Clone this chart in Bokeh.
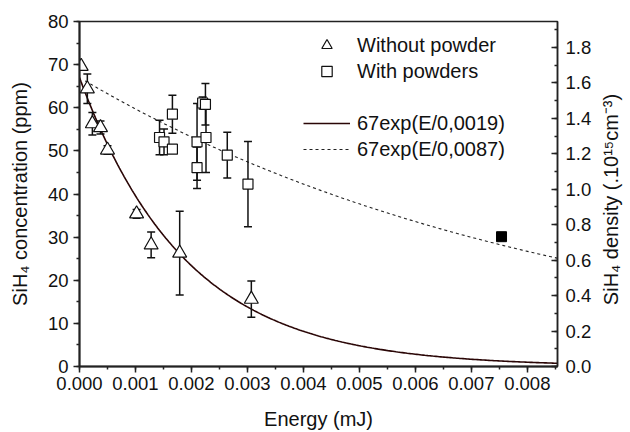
import numpy as np
from bokeh.plotting import figure
from bokeh.models import (Range1d, LinearAxis, SingleIntervalTicker, PrintfTickFormatter,
                          Legend, LegendItem, Label)
from bokeh.embed import file_html
from bokeh.resources import INLINE

# ---- data ----
without_E = [0.00003, 0.00014, 0.00023, 0.000375, 0.0005, 0.00102, 0.00128, 0.00179, 0.00307]
without_c = [69.6, 64.4, 56.3, 55.4, 50.2, 35.4, 28.2, 26.3, 15.6]
without_err = [0.0, 3.4, 2.6, 1.5, 1.0, 1.0, 3.0, 9.7, 4.2]

with_E = [0.00143, 0.00151, 0.00166, 0.00166, 0.0021, 0.0021, 0.0022, 0.00225, 0.00226, 0.00264, 0.00301]
with_c = [53.1, 52.1, 50.4, 58.5, 52.1, 46.1, 61.1, 60.8, 53.1, 49.0, 42.3]
with_err = [4.0, 3.0, 0.0, 4.4, 8.9, 4.8, 1.4, 4.8, 8.1, 5.3, 9.9]

single_E = [0.00754]
single_c = [30.1]

fit_amp = 67
fit_decay = [0.0019, 0.0087]
fit_labels = ["67exp(E/0,0019)", "67exp(E/0,0087)"]
fit_start = [0.0, 0.0001]

x_max = 0.00854
y_max = 80
dens_max = 1.946

FONT = "Liberation Sans"
W, H = 630, 432
BL, BR, BT, BB = 79, 73, 21, 65

p = figure(width=W, height=H, output_backend="svg", toolbar_location=None,
           x_range=Range1d(0, x_max), y_range=Range1d(0, y_max),
           min_border_left=BL, min_border_right=BR, min_border_top=BT, min_border_bottom=BB)
p.extra_y_ranges = {"dens": Range1d(0, dens_max)}
p.xgrid.visible = False
p.ygrid.visible = False
p.outline_line_color = "#222222"
p.outline_line_width = 1.5
p.background_fill_color = "white"
p.border_fill_color = "white"

def style_axis(ax, tick_in=0, tick_out=6):
    ax.axis_line_width = 2
    ax.axis_line_color = "#222222"
    ax.major_tick_line_color = "#222222"
    ax.minor_tick_line_color = "#222222"
    ax.major_tick_line_width = 1.5
    ax.minor_tick_line_width = 1.5
    ax.major_tick_in = tick_in
    ax.major_tick_out = tick_out
    ax.minor_tick_in = tick_in // 2
    ax.minor_tick_out = tick_out // 2
    ax.major_label_text_font = FONT
    ax.major_label_text_font_size = "18.5px"
    ax.major_label_text_color = "#111111"
    ax.axis_label_text_font = FONT
    ax.axis_label_text_font_size = "20px"
    ax.axis_label_text_font_style = "normal"
    ax.axis_label_text_color = "#111111"

xa = p.xaxis[0]
xa.ticker = SingleIntervalTicker(interval=0.001, num_minor_ticks=2)
xa.formatter = PrintfTickFormatter(format="%.3f")
xa.axis_label = "Energy (mJ)"
style_axis(xa)
xa.major_label_standoff = 4
xa.axis_label_standoff = 15

ya = p.yaxis[0]
ya.ticker = SingleIntervalTicker(interval=10, num_minor_ticks=2)
ya.axis_label = "SiH₄ concentration (ppm)"
style_axis(ya)
ya.major_label_standoff = 5
ya.axis_label_standoff = 14

ra = LinearAxis(y_range_name="dens",
                ticker=SingleIntervalTicker(interval=0.2, num_minor_ticks=2),
                formatter=PrintfTickFormatter(format="%.1f"))
style_axis(ra, tick_in=6, tick_out=0)
ra.axis_line_width = 1.5
ra.major_label_standoff = 8
p.add_layout(ra, "right")

# right-axis title in its own side panel, reading bottom-to-top like the reference
frame_h = H - BT - BB
p.add_layout(Label(x=16, y=frame_h / 2 - 6, x_units="screen", y_units="screen",
                   text="SiH₄ density (.10¹⁵cm⁻³)", angle=float(np.pi / 2),
                   text_align="center", text_baseline="middle",
                   text_font=FONT, text_font_size="20px", text_color="#111111"), "right")

# ---- fit curves ----
fit_renderers = []
for decay, start, dash, col, lw in zip(fit_decay, fit_start, ["solid", "3 3"],
                                       ["#2a0606", "#222222"], [1.6, 1.1]):
    E = np.linspace(start, x_max, 300)
    fit_renderers.append(p.line(E, fit_amp * np.exp(-E / decay), line_color=col,
                                line_width=lw, line_dash=dash))

# ---- error bars ----
def errorbars(xs, ys, es):
    xs_ = [x for x, e in zip(xs, es) if e > 0]
    lo = [y - e for y, e in zip(ys, es) if e > 0]
    hi = [y + e for y, e in zip(ys, es) if e > 0]
    p.segment(xs_, lo, xs_, hi, line_color="#111111", line_width=1.5)
    p.scatter(xs_ + xs_, lo + hi, marker="dash", size=8, line_color="#111111", line_width=1.5)

errorbars(without_E, without_c, without_err)
errorbars(with_E, with_c, with_err)

tri = p.scatter(without_E, without_c, marker="triangle", size=14, fill_color="white",
                line_color="#111111", line_width=1.2)
sq = p.scatter(with_E, with_c, marker="square", size=10, fill_color="white",
               line_color="#111111", line_width=1.2)
p.scatter(single_E, single_c, marker="square", size=10, fill_color="black", line_color="black")

blank = p.scatter([], [], marker="square", fill_alpha=0, line_alpha=0)

legend = Legend(items=[
    LegendItem(label="Without powder", renderers=[tri]),
    LegendItem(label="With powders", renderers=[sq]),
    LegendItem(label=" ", renderers=[blank]),
    LegendItem(label=fit_labels[0], renderers=[fit_renderers[0]]),
    LegendItem(label=fit_labels[1], renderers=[fit_renderers[1]]),
], location=(224, 204))
legend.background_fill_alpha = 0
legend.border_line_alpha = 0
legend.label_text_font = FONT
legend.label_text_font_size = "20px"
legend.label_text_color = "#111111"
legend.glyph_width = 47
legend.glyph_height = 26
legend.label_height = 20
legend.label_standoff = 7
legend.spacing = -1
legend.padding = 0
legend.margin = 0
p.add_layout(legend)

open("out.html", "w").write(file_html(p, INLINE))
